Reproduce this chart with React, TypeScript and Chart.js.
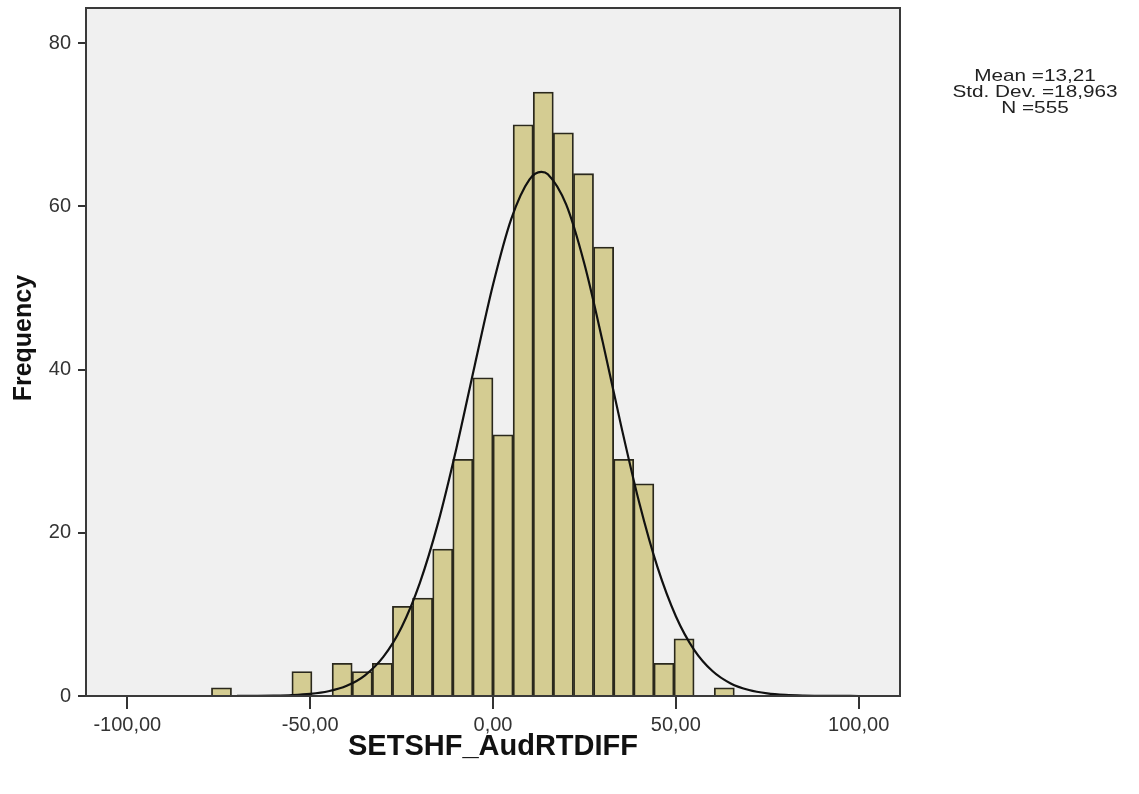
import React, { useEffect, useRef } from "react";
import { Chart, registerables } from "chart.js";

Chart.register(...registerables);

// Histogram bins (centres of 5.5-wide bins) and their frequencies
const binCenters = [-74.25, -52.25, -41.25, -35.75, -30.25, -24.75, -19.25, -13.75, -8.25, -2.75, 2.75, 8.25, 13.75, 19.25, 24.75, 30.25, 35.75, 41.25, 46.75, 52.25, 63.25];
const frequencies = [1, 3, 4, 3, 4, 11, 12, 18, 29, 39, 32, 70, 74, 69, 64, 55, 29, 26, 4, 7, 1];

// Normal curve
const curveX = [-70, -65, -60, -55, -50, -45, -40, -35, -30, -25, -20, -15, -10, -5, 0, 5, 10, 13.21, 15, 20, 25, 30, 35, 40, 45, 50, 55, 60, 65, 70, 75, 80, 85, 90, 95, 100];
const curveY = [0.004, 0.013, 0.037, 0.1, 0.25, 0.58, 1.25, 2.54, 4.79, 8.43, 13.86, 21.24, 30.37, 40.5, 50.39, 58.47, 63.31, 64.22, 63.94, 60.23, 52.93, 43.39, 33.19, 23.67, 15.75, 9.78, 5.66, 3.06, 1.54, 0.73, 0.32, 0.13, 0.05, 0.02, 0.006, 0.002];

const xTicks = [-100, -50, 0, 50, 100];
const yTicks = [0, 20, 40, 60, 80];
const statLines = ["Mean =13,21", "Std. Dev. =18,963", "N =555"];
const xTitle = "SETSHF_AudRTDIFF";
const yTitle = "    Frequency";

const plotFrame = {
  id: "plotFrame",
  beforeDatasetsDraw(chart: any) {
    const { ctx, chartArea: a } = chart;
    ctx.save();
    ctx.fillStyle = "#f0f0f0";
    ctx.fillRect(a.left, a.top, a.right - a.left, a.bottom - a.top);
    ctx.restore();
  },
  afterDatasetsDraw(chart: any) {
    const { ctx, chartArea: a } = chart;
    ctx.save();
    ctx.strokeStyle = "#3a3a3a";
    ctx.lineWidth = 2;
    ctx.strokeRect(a.left, a.top, a.right - a.left, a.bottom - a.top);
    ctx.restore();
  },
};

export default function App() {
  const ref = useRef<HTMLCanvasElement | null>(null);

  useEffect(() => {
    if (!ref.current) return;
    const chart = new Chart(ref.current, {
      type: "bar",
      data: {
        datasets: [
          {
            type: "line",
            data: curveX.map((x, i) => ({ x, y: curveY[i] })),
            borderColor: "#111111",
            borderWidth: 2.2,
            pointRadius: 0,
            cubicInterpolationMode: "monotone",
            fill: false,
            order: 0,
          } as any,
          {
            type: "bar",
            data: binCenters.map((x, i) => ({ x, y: frequencies[i] })),
            backgroundColor: "#d4cc92",
            borderColor: "#2a281c",
            borderWidth: 1.8,
            barPercentage: 1,
            categoryPercentage: 1,
            order: 1,
          } as any,
        ],
      },
      options: {
        animation: false,
        responsive: false,
        devicePixelRatio: 1,
        layout: { padding: { top: 8, right: 239, left: 0, bottom: 0 } },
        plugins: { legend: { display: false }, tooltip: { enabled: false } },
        scales: {
          x: {
            type: "linear",
            min: -111.3,
            max: 111.3,
            offset: false,
            afterBuildTicks: (s: any) => {
              s.ticks = xTicks.map((v) => ({ value: v }));
            },
            afterFit: (s: any) => {
              s.height = 98;
              s.paddingLeft = 0;
              s.paddingRight = 0;
            },
            grid: { display: true, offset: false, drawOnChartArea: false, drawTicks: true, tickLength: 13, color: "#333", lineWidth: 2 },
            border: { display: false },
            ticks: {
              padding: 4,
              color: "#333",
              font: { family: "'Liberation Sans', Arial", size: 20 },
              callback: (v: any) => Number(v).toFixed(2).replace(".", ","),
              maxRotation: 0,
            },
            title: {
              display: true,
              text: xTitle,
              color: "#111",
              font: { family: "'Liberation Sans', Arial", size: 29, weight: "bold", lineHeight: 1 },
              padding: { top: 0, bottom: 33 },
            },
          },
          y: {
            type: "linear",
            min: 0,
            max: 84.3,
            afterBuildTicks: (s: any) => {
              s.ticks = yTicks.map((v) => ({ value: v }));
            },
            afterFit: (s: any) => {
              s.width = 86;
              s.paddingTop = 0;
              s.paddingBottom = 0;
            },
            grid: { display: true, drawOnChartArea: false, drawTicks: true, tickLength: 8, color: "#333", lineWidth: 2 },
            border: { display: false },
            ticks: {
              padding: 7,
              color: "#333",
              font: { family: "'Liberation Sans', Arial", size: 20 },
              callback: (v: any) => String(v),
            },
            title: {
              display: true,
              text: yTitle,
              color: "#111",
              font: { family: "'Liberation Sans', Arial", size: 25, weight: "bold", lineHeight: 1 },
              padding: { top: 12, bottom: 0 },
            },
          },
        },
      },
      plugins: [plotFrame],
    });
    return () => chart.destroy();
  }, []);

  return (
    <div style={{ position: "fixed", left: 0, top: 0, width: 1139, height: 794, background: "#fff" }}>
      <canvas ref={ref} width={1139} height={794} style={{ display: "block" }} />
      <div
        style={{
          position: "absolute",
          left: 935,
          top: 68,
          width: 200,
          textAlign: "center",
          fontFamily: "'Liberation Sans', Arial",
          fontSize: 17,
          lineHeight: "16px",
          color: "#222",
          transform: "scaleX(1.22)",
          transformOrigin: "center top",
        }}
      >
        {statLines.map((t) => (
          <div key={t}>{t}</div>
        ))}
      </div>
    </div>
  );
}
